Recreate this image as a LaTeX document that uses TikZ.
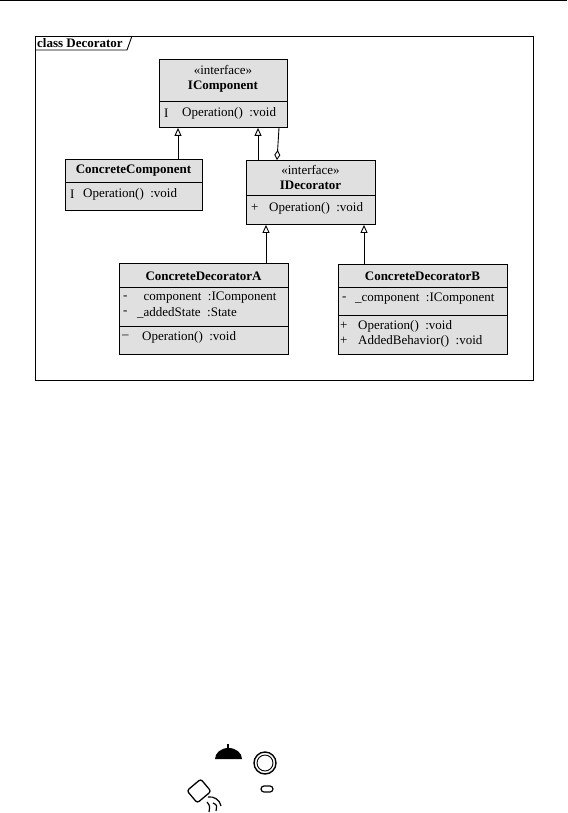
\documentclass[tikz,border=0pt]{standalone}
\usepackage{fontspec}
\setmainfont{Liberation Serif}
\usetikzlibrary{arrows.meta}
\definecolor{boxgray}{RGB}{224,224,224}
\begin{document}
\begin{tikzpicture}[x=1pt,y=-1pt,
  cls/.style={draw, fill=boxgray, line width=0.9pt, anchor=north west, inner sep=0pt},
  txt/.style={font=\fontsize{13}{15}\selectfont, inner sep=0pt, anchor=west},
  hdr/.style={font=\fontsize{13}{15}\selectfont, inner sep=0pt, align=center},
  gen/.style={draw, line width=0.9pt, -{Triangle[open,length=8pt,width=7pt]}},
  agg/.style={draw, line width=0.9pt, -{Diamond[open,length=10pt,width=6pt]}},
  sep/.style={line width=0.9pt}
]
\useasboundingbox (0,0) rectangle (567,813);
% top rule
\draw[line width=1pt] (0,1) -- (567,1);
% frame
\draw[line width=0.9pt] (35,36) rectangle (533,380);
\draw[line width=0.9pt] (35,50) -- (127,50) -- (132,36);
\node[txt, font=\fontsize{13}{15}\selectfont\bfseries] (title) at (37,43) {class Decorator};

% IComponent
\node[cls, minimum width=128, minimum height=68] (icomp) at (159,59) {};
\draw[sep] (159,101) -- (287,101);
\node[hdr] (icomph) at (223,79) {«interface»\\\textbf{IComponent}};
\node[txt] (icompv) at (164,113) {I};
\node[txt] (icompo) at (182,113) {Operation()~~:void};

% ConcreteComponent
\node[cls, minimum width=137, minimum height=51] (ccomp) at (65,159) {};
\draw[sep] (65,182) -- (202,182);
\node[hdr] (ccomph) at (133.5,171) {\textbf{ConcreteComponent}};
\node[txt] (ccompv) at (70,194) {I};
\node[txt] (ccompo) at (83,194) {Operation()~~:void};

% IDecorator
\node[cls, minimum width=129, minimum height=64] (idec) at (246,160) {};
\draw[sep] (246,195) -- (375,195);
\node[hdr] (idech) at (310.5,177) {«interface»\\\textbf{IDecorator}};
\node[txt] (idecv) at (251,208) {+};
\node[txt] (ideco) at (269,208) {Operation()~~:void};

% ConcreteDecoratorA
\node[cls, minimum width=169, minimum height=91] (cda) at (119,263) {};
\draw[sep] (119,287) -- (288,287);
\draw[sep] (119,326) -- (288,326);
\node[hdr] (cdah) at (203.5,276) {\textbf{ConcreteDecoratorA}};
\node[txt] (cdav1) at (123,298) {-};
\node[txt] (cdaa1) at (137,298) {\phantom{\_}component~~:IComponent};
\node[txt] (cdav2) at (123,313) {-};
\node[txt] (cdaa2) at (137,313) {\_addedState~~:State};
\node[txt] (cdav3) at (122,337) {--};
\node[txt] (cdao) at (142,337) {Operation()~~:void};

% ConcreteDecoratorB
\node[cls, minimum width=169, minimum height=90] (cdb) at (338,264) {};
\draw[sep] (338,287) -- (507,287);
\draw[sep] (338,315) -- (507,315);
\node[hdr] (cdbh) at (422.5,276) {\textbf{ConcreteDecoratorB}};
\node[txt] (cdbv1) at (342,299) {-};
\node[txt] (cdba1) at (355,299) {\_component~~:IComponent};
\node[txt] (cdbv2) at (340,326) {+};
\node[txt] (cdbo1) at (358,326) {Operation()~~:void};
\node[txt] (cdbv3) at (340,341) {+};
\node[txt] (cdbo2) at (358,341) {AddedBehavior()~~:void};

% connectors
\coordinate (g1) at (178,0);
\coordinate (g2) at (258,0);
\coordinate (g3) at (266,0);
\coordinate (g4) at (364,0);
\coordinate (a1) at (279,0);
\coordinate (a2) at (277,0);
\draw[gen] (ccomp.north -| g1) -- (icomp.south -| g1);
\draw[gen] (idec.north -| g2) -- (icomp.south -| g2);
\draw[agg] (icomp.south -| a1) -- (idec.north -| a2);
\draw[gen] (cda.north -| g3) -- (idec.south -| g3);
\draw[gen] (cdb.north -| g4) -- (idec.south -| g4);

% scanned marks at bottom
\fill (215,759) arc[start angle=180, end angle=360, x radius=13.5, y radius=11] -- cycle;
\draw[line width=1.2pt] (228,749) -- (228,744);
\draw[line width=1.4pt] (265,763) circle[radius=11];
\draw[line width=0.9pt] (265,763) circle[radius=8];
\draw[line width=1.2pt, rounded corners=3] (261,786) rectangle (273,792);
\draw[line width=1.3pt, rounded corners=2.5, rotate around={40:(199,791)}] (190,783) rectangle (208,799);
\draw[line width=1.2pt] (208,797) .. controls (214,796) and (220,800) .. (221,806)
  (213,803) .. controls (217,805) .. (216,811)
  (207,802) .. controls (210,806) .. (209,812);
\end{tikzpicture}
\end{document}
